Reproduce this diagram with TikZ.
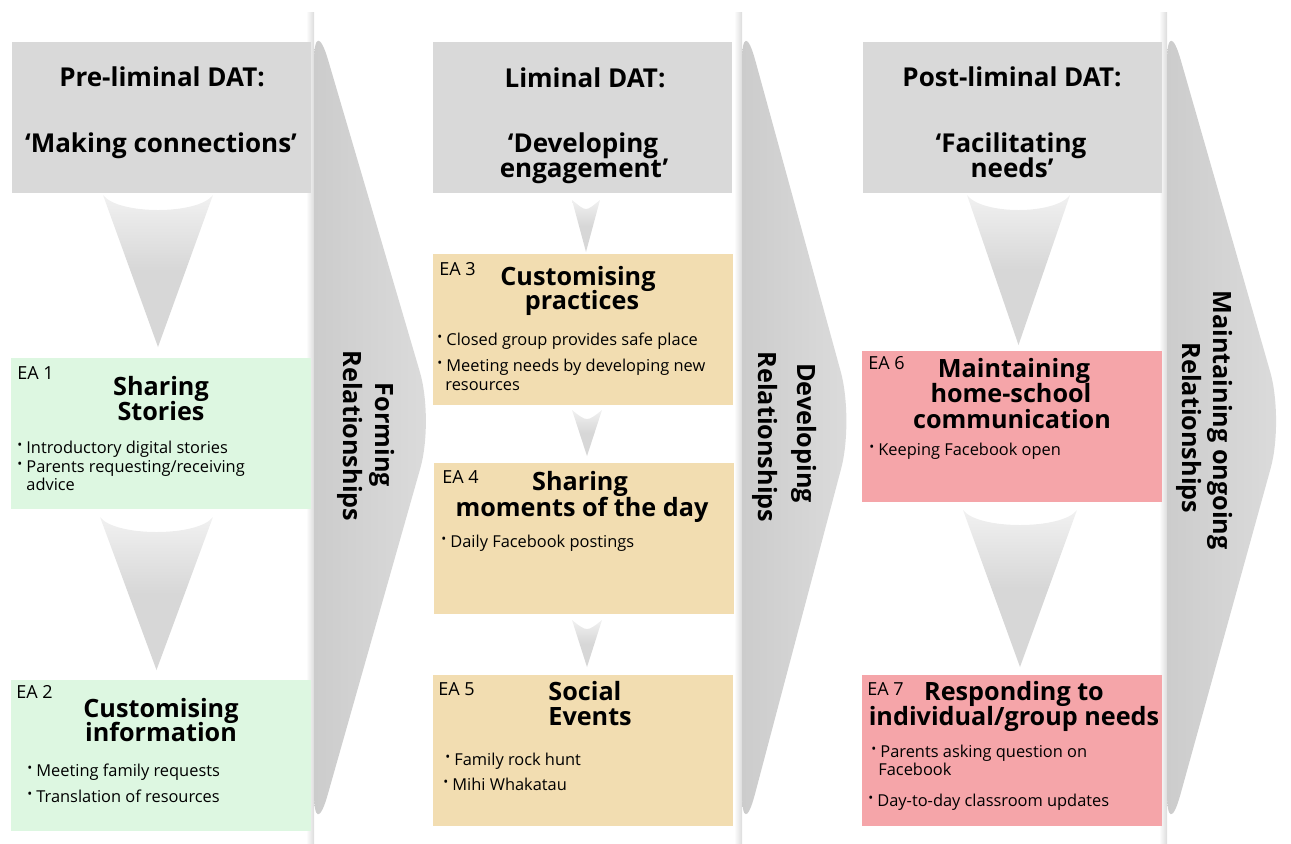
\documentclass[tikz,border=0pt]{standalone}
\usepackage{fontspec}
\usepackage{graphicx}
\setmainfont{Open Sans}
\newfontfamily\boldish{Open Sans}[UprightFont={* Bold}]

\definecolor{hdrgray}{RGB}{217,217,217}
\definecolor{chevgray}{RGB}{220,220,220}
\definecolor{chevdark}{RGB}{204,204,204}
\definecolor{funnelgray}{RGB}{215,215,215}
\definecolor{eagreen}{RGB}{221,247,225}
\definecolor{eatan}{RGB}{242,221,177}
\definecolor{eapink}{RGB}{245,165,169}

\newcommand{\bul}{\makebox[4.5pt][l]{\raisebox{.35ex}{\scalebox{.8}{\textbullet}}}}

\begin{document}
\begin{tikzpicture}[x=0.5pt,y=-0.5pt,
	hdrbox/.style={fill=hdrgray, minimum width=149.5pt, minimum height=75.5pt, inner sep=0pt},
	eabox/.style={minimum width=150pt, minimum height=75.5pt, inner sep=0pt},
	hdr/.style={font=\bfseries\fontsize{13}{16}\selectfont, anchor=base, inner sep=0pt},
	ttl/.style={font=\bfseries\fontsize{12.6}{15}\selectfont, anchor=base, inner sep=0pt},
	lab/.style={font=\fontsize{9}{10}\selectfont, anchor=base west, inner sep=0pt},
	pnt/.style={font=\fontsize{8.2}{10}\selectfont, anchor=base west, inner sep=0pt},
	rel/.style={font=\bfseries\fontsize{12.6}{15}\selectfont, anchor=base, rotate=-90, inner sep=0pt},
	chev/.style={left color=chevdark, right color=chevgray, rounded corners=25pt},
	funnel/.style={top color=funnelgray!35, bottom color=funnelgray, middle color=funnelgray}]
	\useasboundingbox (0,0) rectangle (1291,843);
	
	% big grey chevrons between the columns
	\foreach \a/\b in {314/434, 742/854, 1167/1284}{
		\shade[left color=white, right color=chevgray] (\a-8,12) rectangle (\a,843);
		\shade[chev] (\a,12) -- (\b,420) -- (\a,843) -- cycle;
	}
	
	% funnel arrows
	\foreach \l/\r/\t/\c/\b in {103/213/195/215/347, 100/213/517/537/670, 967/1070/195/215/345, 963/1077/510/530/667, 572/600/200/212/252, 572/602/410/422/456, 572/602/620/632/667}{
		\shade[funnel] (\l,\t) .. controls (\l+15,\c) and (\r-15,\c) .. (\r,\t) -- ({(\l+\r)/2},\b) -- cycle;
	}
	
	% headers
	\node[hdrbox] (hdr1) at (161.5,117.5) {};
	\node[hdrbox] (hdr2) at (582.5,117.5) {};
	\node[hdrbox] (hdr3) at (1012,117.5) {};
	
	\node[hdr] (hdr1a) at (162,86) {Pre-liminal DAT:};
	\node[hdr] (hdr1b) at (161,152) {‘Making connections’};
	\node[hdr] (hdr2a) at (585,87) {Liminal DAT:};
	\node[hdr] (hdr2b) at (583,152) {‘Developing};
	\node[hdr] (hdr2c) at (584,177) {engagement’};
	\node[hdr] (hdr3a) at (1012,86) {Post-liminal DAT:};
	\node[hdr] (hdr3b) at (1011,152) {‘Facilitating};
	\node[hdr] (hdr3c) at (1012,177) {needs’};
	
	% activity boxes
	\node[eabox, fill=eagreen] (ea1) at (161,433.5) {};
	\node[eabox, fill=eagreen] (ea2) at (161,755.5) {};
	\node[eabox, fill=eatan] (ea3) at (583,329.5) {};
	\node[eabox, fill=eatan] (ea4) at (584,538.5) {};
	\node[eabox, fill=eatan] (ea5) at (583,750.5) {};
	\node[eabox, fill=eapink] (ea6) at (1012,426.5) {};
	\node[eabox, fill=eapink] (ea7) at (1012,750.5) {};
	
	% EA 1
	\node[lab] (ea1l) at (17,379) {EA 1};
	\node[ttl] (ea1t1) at (161,395) {Sharing};
	\node[ttl] (ea1t2) at (161,420) {Stories};
	\node[pnt] (ea1p1) at (17,453) {\bul Introductory digital stories};
	\node[pnt] (ea1p2) at (17,472) {\bul Parents requesting/receiving};
	\node[pnt] (ea1p3) at (26,490) {advice};
	
	% EA 2
	\node[lab] (ea2l) at (16,698) {EA 2};
	\node[ttl] (ea2t1) at (161,717) {Customising};
	\node[ttl] (ea2t2) at (161,741) {information};
	\node[pnt] (ea2p1) at (27,776) {\bul Meeting family requests};
	\node[pnt] (ea2p2) at (27,802) {\bul Translation of resources};
	
	% EA 3
	\node[lab] (ea3l) at (439,275) {EA 3};
	\node[ttl] (ea3t1) at (578,285) {Customising};
	\node[ttl] (ea3t2) at (582,309) {practices};
	\node[pnt] (ea3p1) at (437,345) {\bul Closed group provides safe place};
	\node[pnt] (ea3p2) at (437,371) {\bul Meeting needs by developing new};
	\node[pnt] (ea3p3) at (445,390) {resources};
	
	% EA 4
	\node[lab] (ea4l) at (442,483) {EA 4};
	\node[ttl] (ea4t1) at (580,490) {Sharing};
	\node[ttl] (ea4t2) at (582,516) {moments of the day};
	\node[pnt] (ea4p1) at (441,547) {\bul Daily Facebook postings};
	
	% EA 5
	\node[lab] (ea5l) at (438,695) {EA 5};
	\node[ttl, anchor=base west] (ea5t1) at (548,700) {Social};
	\node[ttl, anchor=base west] (ea5t2) at (548,725) {Events};
	\node[pnt] (ea5p1) at (445,765) {\bul Family rock hunt};
	\node[pnt] (ea5p2) at (443,790) {\bul Mihi Whakatau};
	
	% EA 6
	\node[lab] (ea6l) at (868,369) {EA 6};
	\node[ttl] (ea6t1) at (1014,377) {Maintaining};
	\node[ttl] (ea6t2) at (1011,402) {home-school};
	\node[ttl] (ea6t3) at (1012,428) {communication};
	\node[pnt] (ea6p1) at (869,455) {\bul Keeping Facebook open};
	
	% EA 7
	\node[lab] (ea7l) at (867,695) {EA 7};
	\node[ttl] (ea7t1) at (1014,700) {Responding to};
	\node[ttl] (ea7t2) at (1014,725) {individual/group needs};
	\node[pnt] (ea7p1) at (871,757) {\bul Parents asking question on};
	\node[pnt] (ea7p2) at (878,775) {Facebook};
	\node[pnt] (ea7p3) at (868,806) {\bul Day-to-day classroom updates};
	
	% chevron labels
	\node[rel] (rel1a) at (375,435) {Forming};
	\node[rel] (rel1b) at (343,436) {Relationships};
	\node[rel] (rel2a) at (797,433) {Developing};
	\node[rel] (rel2b) at (758,437) {Relationships};
	\node[rel] (rel3a) at (1213,420) {Maintaining ongoing};
	\node[rel] (rel3b) at (1182,428) {Relationships};
\end{tikzpicture}
\end{document}
